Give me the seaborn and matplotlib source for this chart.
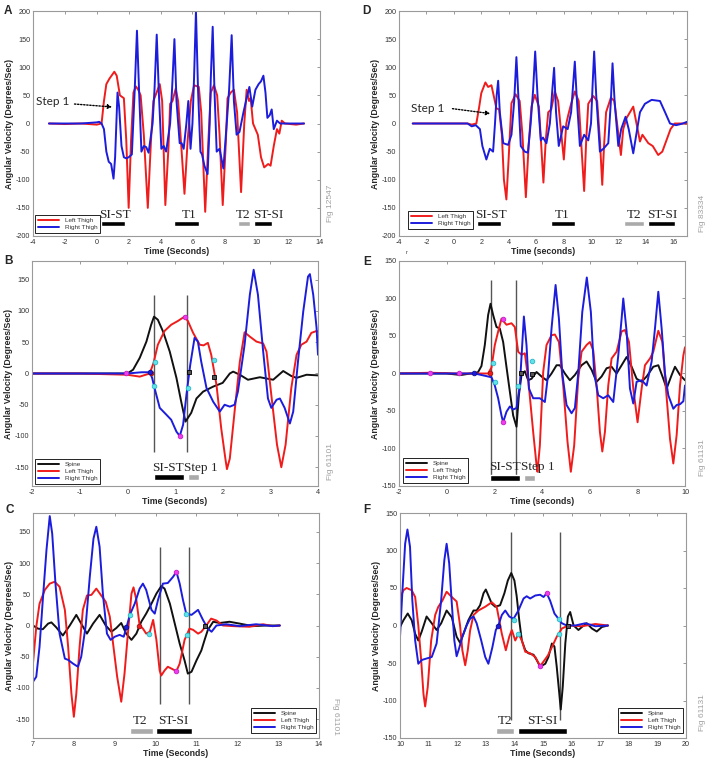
import matplotlib
matplotlib.use("Agg")
import matplotlib.pyplot as plt
import seaborn as sns

# ---------------- data ----------------
# A: whole trial (Fig 12547)
A_RED_T = [-3, -2, -1, 0, 0.3, 0.45, 0.6, 0.8, 1.1, 1.25, 1.45, 1.6, 1.7, 1.85, 2.0, 2.15, 2.3, 2.45, 2.6, 2.75,
           2.95, 3.2, 3.4, 3.55, 3.75, 3.95, 4.1, 4.3, 4.5, 4.6, 4.75, 4.95, 5.1, 5.3, 5.5, 5.7, 5.9, 6.1, 6.4, 6.55,
           6.8, 7.0, 7.15, 7.35, 7.55, 7.7, 7.9, 8.1, 8.2, 8.4, 8.6, 8.8, 9.05, 9.25, 9.4, 9.55, 9.65, 9.8, 10.1, 10.3,
           10.5, 10.75, 10.9, 11.1, 11.3, 11.45, 11.6, 11.8, 12.5, 13]
A_RED_V = [0, -1, 0, -2, 0, 40, 70, 80, 92, 85, 50, 47, 45, -30, -150, -30, 55, 66, 60, 50,
           -20, -150, -30, 40, 55, 70, 40, -145, -40, 35, 40, 62, 40, -40, -125, -30, 40, 68, 65, 20,
           -157, -30, 55, 68, 50, -20, -145, -30, 45, 55, 60, 20, -122, 0, 60, 40, 45, 0, -20, -60,
           -78, -72, -75, -40, -10, -18, 5, 0, -2, 0]
A_BLUE_T = [-3, -1, 0, 0.15, 0.3, 0.45, 0.6, 0.75, 0.9, 1.05, 1.15, 1.3, 1.4, 1.55, 1.7, 1.85, 2.0, 2.2, 2.38, 2.52,
            2.65, 2.8, 2.95, 3.1, 3.25, 3.5, 3.62, 3.76, 3.9, 4.05, 4.2, 4.35, 4.6, 4.72, 4.87, 5.0, 5.2, 5.32, 5.45, 5.62,
            5.74, 5.88, 6.0, 6.1, 6.22, 6.35, 6.5, 6.6, 6.75, 6.95, 7.08, 7.15, 7.27, 7.38, 7.52, 7.7, 7.94, 8.15, 8.3, 8.46,
            8.6, 8.77, 8.95, 9.2, 9.4, 9.57, 9.75, 9.95, 10.15, 10.3, 10.45, 10.58, 10.7, 10.85, 10.97, 11.1, 11.3, 11.5, 12, 13]
A_BLUE_V = [0, 0, 2, 3, 0, -10, -50, -68, -72, -98, -60, 55, 30, -40, -60, -62, -60, -55, 60, 165,
            60, -50, -40, -42, -52, 0, 60, 158, 50, -45, -40, -50, 0, 60, 150, 40, -35, -35, -45, 0,
            40, -45, 0, 80, 200, 60, -50, -55, -75, -90, 0, 80, 172, 60, -50, -45, -80, 0, 60, 157,
            40, -20, -15, 20, 45, 65, 30, 60, 70, 75, 85, 55, 10, 15, 25, -10, 5, 0, 0, 0]
A_BAR_START = [0.27, 4.86, 8.84, 9.86]
A_BAR_END = [1.75, 6.41, 9.61, 10.99]
A_BAR_LABEL = ["SI-ST", "T1", "T2", "ST-SI"]
A_BAR_LABEL_X = [1.14, 5.8, 9.15, 10.76]
A_BAR_GRAY = [False, False, True, False]

# D: whole trial (Fig 83334)
D_RED_T = [-3, -1, 1, 1.3, 1.64, 1.85, 2.0, 2.3, 2.5, 2.74, 2.9, 3.1, 3.3, 3.5, 3.65, 3.83, 4.0, 4.2, 4.5, 4.8,
           5.0, 5.25, 5.45, 5.66, 5.9, 6.2, 6.35, 6.53, 6.7, 6.88, 7.1, 7.36, 7.6, 7.8, 8.02, 8.2, 8.34, 8.55, 8.82, 9.1,
           9.3, 9.5, 9.65, 9.8, 10.16, 10.45, 10.65, 10.82, 10.95, 11.1, 11.45, 11.7, 11.95, 12.18, 12.35, 12.6, 13.08,
           13.57, 13.75, 14.18, 14.5, 14.9, 15.2, 15.5, 15.8, 16.1, 17]
D_RED_V = [0, 0, 0, -2, 0, 30, 54, 73, 65, 68, 50, 27, 25, -20, -100, -135, -60, 36, 52, 40,
           -20, -131, -40, 30, 51, 30, -30, -105, -30, 20, 25, 57, 40, -10, -64, 0, 15, 35, 57, 40,
           -40, -120, -30, 35, 49, 40, -30, -109, -40, 20, 46, 40, -10, -56, -10, 10, 30,
           -32, -20, -35, -40, -56, -50, -30, -10, 0, 0]
D_BLUE_T = [-3, -1, 1.0, 1.3, 1.6, 1.9, 2.08, 2.37, 2.62, 2.86, 3.0, 3.12, 3.23, 3.35, 3.6, 3.96, 4.2, 4.4, 4.56, 4.7,
            4.88, 5.17, 5.4, 5.6, 5.78, 5.93, 6.1, 6.34, 6.5, 6.75, 7.0, 7.18, 7.31, 7.45, 7.65, 7.97, 8.3, 8.55, 8.7, 8.82,
            8.95, 9.19, 9.5, 9.8, 10.0, 10.12, 10.23, 10.38, 10.65, 10.9, 11.26, 11.45, 11.57, 11.72, 11.99, 12.2, 12.52,
            12.75, 13.08, 13.3, 13.57, 13.93, 14.42, 15.03, 15.4, 15.76, 16.2, 16.7, 17]
D_BLUE_V = [0, 0, 0, -5, -3, -10, -40, -64, -45, -50, 0, 50, 76, 20, -35, -38, -20, 40, 118, 50,
            -40, -50, -52, 0, 60, 128, 50, -30, -25, -35, 0, 60, 99, 20, -40, -5, -10, 20, 70, 110,
            50, -40, -20, -30, 0, 70, 128, 50, -50, -45, -35, 40, 107, 40, -40, -10, 12,
            -10, -53, -20, 20, 35, 42, 40, 20, 0, -3, 0, 3]
D_BAR_START = [1.69, 7.05, 12.37, 14.13]
D_BAR_END = [3.47, 8.82, 13.88, 16.12]
D_BAR_LABEL = ["SI-ST", "T1", "T2", "ST-SI"]
D_BAR_LABEL_X = [2.67, 7.9, 13.15, 15.17]
D_BAR_GRAY = [False, False, True, False]

# B: sit-to-stand detail (Fig 61101)
B_SPINE_T = [-2, -1, 0, 0.12, 0.26, 0.4, 0.5, 0.56, 0.64, 0.75, 0.89, 1.03, 1.13, 1.22, 1.34, 1.45, 1.59, 1.8, 2.0,
             2.15, 2.22, 2.36, 2.53, 2.78, 2.92, 3.06, 3.27, 3.44, 3.55, 3.76, 4.0]
B_SPINE_V = [0, 0, 0, 6, 25, 51, 78, 91, 86, 67, 35, -7, -45, -77, -63, -40, -29, -21, -15,
             0, 3, -2, -10, -6, -8, -10, 4, -4, -7, -2, -3]
B_RED_T = [-2, -1, 0, 0.26, 0.47, 0.55, 0.64, 0.78, 0.92, 1.06, 1.2, 1.27, 1.38, 1.52, 1.6, 1.69, 1.76, 1.87, 1.97,
           2.06, 2.09, 2.15, 2.25, 2.36, 2.46, 2.57, 2.71, 2.85, 2.92, 3.02, 3.14, 3.23, 3.32, 3.44, 3.55, 3.65, 3.76,
           3.86, 3.97, 4.0]
B_RED_V = [0, 0, -2, -5, 0, 17, 46, 68, 78, 84, 91, 84, 65, 46, 45, 49, 30, -18, -88,
           -138, -153, -136, -61, 19, 66, 59, 51, 48, 35, -34, -114, -150, -114, -23, 30, 46, 51,
           65, 68, 67]
B_BLUE_T = [-2, -1, 0, 0.3, 0.47, 0.52, 0.57, 0.68, 0.82, 0.92, 1.03, 1.1, 1.17, 1.24, 1.32, 1.41, 1.48, 1.55, 1.66,
            1.8, 1.94, 2.04, 2.15, 2.25, 2.32, 2.46, 2.57, 2.65, 2.74, 2.85, 2.95, 3.02, 3.13, 3.2, 3.3, 3.41, 3.48,
            3.58, 3.69, 3.79, 3.83, 3.9, 3.97, 4.0]
B_BLUE_V = [0, 0, 0, 2, 2, -7, -23, -55, -66, -74, -93, -100, -82, -34, 14, 57, 51, 19, -23,
            -45, -61, -50, -53, -50, -29, 46, 126, 166, 126, 35, -40, -55, -42, -40, -55, -80, -61,
            19, 99, 155, 159, 126, 73, 30]
B_VLINES = [0.56, 1.25]
B_MARK_X = [0.58, 0.56, 1.27, 1.81, 1.20, 1.10, -0.02, 0.50, 0.47, 1.29, 1.82]
B_MARK_Y = [18, -20, -23, 21, 91, -100, 0, 0, 2, 2, -5]
B_MARK_K = ["c", "c", "c", "c", "m", "m", "m", "r", "b", "k", "k"]
B_BAR_START = [0.56, 1.27]
B_BAR_END = [1.18, 1.50]
B_BAR_LABEL = ["SI-ST", "Step 1"]
B_BAR_LABEL_X = [0.85, 1.54]
B_BAR_GRAY = [False, True]

# E: sit-to-stand detail (Fig 61131)
E_SPINE_T = [-2, 0, 0.6, 1.0, 1.18, 1.32, 1.46, 1.6, 1.74, 1.84, 1.95, 2.09, 2.23, 2.37, 2.5, 2.65, 2.79, 2.93, 3.03,
             3.14, 3.28, 3.42, 3.56, 3.77, 3.98, 4.19, 4.4, 4.61, 4.75, 4.96, 5.17, 5.38, 5.66, 5.87, 6.08, 6.29, 6.5,
             6.71, 6.92, 7.13, 7.34, 7.55, 7.76, 7.97, 8.18, 8.39, 8.67, 8.88, 9.09, 9.23, 9.44, 9.58, 9.79, 10.0]
E_SPINE_V = [0, 0, -2, 0, 0, 2, 10, 38, 78, 93, 78, 62, 60, 42, 11, -24, -56, -71, -29,
             -2, 3, -9, -7, 2, -4, -9, 0, 11, 11, 0, -9, -2, 11, 16, 5, -11, -4,
             7, 9, 0, 11, 22, 9, -7, -11, -4, 9, 11, -7, -20, -2, 9, -2, -9]
E_RED_T = [-2, -0.7, 0.5, 1.0, 1.74, 1.88, 2.02, 2.16, 2.3, 2.51, 2.72, 2.86, 3.0, 3.14, 3.28, 3.42, 3.63, 3.77, 3.81,
           3.91, 4.05, 4.19, 4.4, 4.54, 4.71, 4.89, 5.07, 5.21, 5.35, 5.52, 5.66, 5.87, 6.01, 6.15, 6.29, 6.43, 6.53,
           6.64, 6.78, 6.92, 7.13, 7.34, 7.48, 7.65, 7.83, 8.01, 8.18, 8.32, 8.53, 8.67, 8.88, 9.05, 9.19, 9.37, 9.51,
           9.65, 9.79, 9.93, 10.0]
E_RED_V = [0, 1, 0, 0, 0, 8, 38, 56, 73, 65, 67, 62, 29, 25, 27, -7, -78, -122, -131,
           -96, 2, 38, 51, 52, 42, -16, -91, -131, -96, -7, 29, 38, 42, 31, -16, -78, -104,
           -78, -16, 20, 29, 56, 58, 42, -20, -65, -20, 11, 20, 29, 57, 42, -16, -87, -120,
           -82, -16, 24, 35]
E_BLUE_T = [-2, 0, 1.18, 1.6, 1.88, 2.02, 2.16, 2.3, 2.37, 2.51, 2.65, 2.79, 2.93, 3.07, 3.17, 3.24, 3.35, 3.45, 3.63,
            3.91, 4.12, 4.26, 4.4, 4.57, 4.71, 4.85, 5.03, 5.24, 5.38, 5.52, 5.69, 5.88, 6.05, 6.19, 6.36, 6.57, 6.78,
            6.99, 7.2, 7.34, 7.41, 7.55, 7.69, 7.83, 7.97, 8.18, 8.39, 8.6, 8.74, 8.88, 9.02, 9.16, 9.3, 9.51, 9.65,
            9.79, 9.93, 10.0]
E_BLUE_V = [0, 0, 0, -3, -5, -16, -33, -56, -65, -51, -44, -48, -46, -16, 38, 76, 38, -20, -33,
            -33, -38, 0, 60, 118, 73, 0, -42, -53, -46, 0, 82, 128, 82, 0, -29, -33, -29,
            -38, 24, 73, 100, 56, -20, -40, -11, -9, -16, 16, 60, 109, 60, 0, -29, -47, -42,
            -41, -37, -16]
E_VLINES = [1.84, 2.93]
E_MARK_X = [1.93, 2.02, 3.00, 3.60, 2.35, 2.37, -0.70, 0.50, 1.81, 1.15, 3.12, 3.60]
E_MARK_Y = [14, -12, -17, 17, 73, -65, 0, 0, 0, 0, 1, -1]
E_MARK_K = ["c", "c", "c", "c", "m", "m", "m", "m", "r", "b", "k", "k"]
E_BAR_START = [1.81, 3.24]
E_BAR_END = [3.07, 3.70]
E_BAR_LABEL = ["SI-ST", "Step 1"]
E_BAR_LABEL_X = [2.44, 3.84]
E_BAR_GRAY = [False, True]

# C: stand-to-sit detail (Fig 61101)
C_SPINE_T = [7.0, 7.12, 7.24, 7.37, 7.45, 7.57, 7.73, 7.9, 8.06, 8.18, 8.32, 8.47, 8.63, 8.78, 8.92, 9.04, 9.16, 9.28,
             9.41, 9.53, 9.65, 9.77, 9.9, 10.02, 10.14, 10.22, 10.35, 10.47, 10.59, 10.71, 10.79, 10.88, 11.0, 11.12,
             11.2, 11.28, 11.41, 11.57, 11.81, 12.06, 12.38, 12.71, 13.04]
C_SPINE_V = [0, -5, -6, 3, 5, -3, -16, 0, 17, 3, -13, 3, 17, 0, -10, -4, 4, -13,
             -23, -13, 6, 19, 35, 51, 63, 59, 35, 3, -29, -56, -77, -74, -56, -40,
             -23, -7, 6, 4, 6, 3, -1, 0, 0]
C_RED_T = [7.0, 7.08, 7.16, 7.29, 7.41, 7.53, 7.65, 7.78, 7.86, 7.94, 8.0, 8.06, 8.14, 8.22, 8.32, 8.43, 8.55, 8.67,
           8.78, 8.88, 8.96, 9.06, 9.16, 9.24, 9.33, 9.41, 9.46, 9.53, 9.61, 9.69, 9.77, 9.86, 9.94, 10.02, 10.1,
           10.14, 10.22, 10.3, 10.39, 10.51, 10.59, 10.71, 10.83, 10.92, 11.04, 11.12, 11.24, 11.36, 11.49, 11.65,
           11.9, 12.3, 12.63, 12.87, 13.04]
C_RED_V = [-60, -2, 35, 57, 67, 70, 62, 25, -34, -109, -146, -109, -34, 25, 48, 49, 59, 48,
           38, 14, -29, -82, -122, -77, -7, 51, 61, 41, 0, -5, -13, -10, 9, -23, -72,
           -80, -72, -66, -69, -73, -61, -23, -5, -7, -13, -10, 0, 11, 8, 0,
           -1, -2, 2, -1, 0]
C_BLUE_T = [7.0, 7.08, 7.16, 7.24, 7.33, 7.41, 7.47, 7.55, 7.65, 7.78, 7.86, 7.98, 8.1, 8.18, 8.29, 8.39, 8.48, 8.55,
            8.63, 8.71, 8.81, 8.9, 9.0, 9.12, 9.22, 9.28, 9.37, 9.49, 9.61, 9.69, 9.77, 9.9, 9.98, 10.06, 10.18,
            10.3, 10.43, 10.51, 10.59, 10.67, 10.75, 10.88, 11.04, 11.16, 11.28, 11.37, 11.49, 11.73, 12.06, 12.46,
            12.87, 13.04]
C_BLUE_V = [-90, -82, -34, 41, 121, 175, 147, 67, -13, -53, -55, -61, -66, -50, 0, 78, 139, 158,
            126, 51, -13, -23, -18, -15, -18, -5, 17, 35, 59, 67, 57, 25, 19, 41, 67,
            68, 78, 86, 67, 41, 19, 17, 25, 9, -5, -10, 0, 2, -1, 2,
            -1, 0]
C_VLINES = [10.12, 10.81]
C_MARK_X = [9.37, 9.85, 10.75, 10.77, 10.51, 10.51, 9.28, 9.60, 11.22]
C_MARK_Y = [17, -13, 18, -15, 86, -73, -3, 0, 0]
C_MARK_K = ["c", "c", "c", "c", "m", "m", "b", "r", "k"]
C_BAR_START = [9.37, 10.02]
C_BAR_END = [9.94, 10.89]
C_BAR_LABEL = ["T2", "ST-SI"]
C_BAR_LABEL_X = [9.61, 10.43]
C_BAR_GRAY = [True, False]

# F: stand-to-sit detail (Fig 61131)
F_SPINE_T = [10.0, 10.12, 10.27, 10.41, 10.53, 10.64, 10.76, 10.93, 11.11, 11.28, 11.44, 11.63, 11.81, 11.98, 12.1,
             12.22, 12.39, 12.57, 12.68, 12.8, 12.92, 13.0, 13.09, 13.21, 13.33, 13.5, 13.65, 13.77, 13.89, 14.0,
             14.08, 14.17, 14.26, 14.38, 14.49, 14.67, 14.78, 14.9, 15.08, 15.19, 15.31, 15.4, 15.48, 15.57, 15.62,
             15.69, 15.78, 15.87, 15.95, 16.07, 16.24, 16.36, 16.53, 16.71, 16.88, 17.06, 17.27]
F_SPINE_V = [-2, 7, 16, 7, -11, -20, -8, 12, 3, -6, 3, 20, 11, -15, -23,
             -11, 7, 20, 20, 27, 43, 48, 40, 29, 25, 27, 43, 60, 70, 60,
             39, 7, -20, -33, -37, -39, -46, -55, -51, -42, -24, -28, -55, -91, -112,
             -82, -24, 12, 18, 0, -6, -2, 3, -4, -8, -2, 0]
F_RED_T = [10.0, 10.12, 10.23, 10.41, 10.53, 10.64, 10.74, 10.82, 10.88, 10.97, 11.09, 11.23, 11.34, 11.48, 11.63,
           11.81, 11.98, 12.1, 12.18, 12.28, 12.37, 12.45, 12.57, 12.74, 12.98, 13.21, 13.38, 13.56, 13.7, 13.82,
           13.91, 14.03, 14.14, 14.26, 14.38, 14.55, 14.73, 14.9, 15.02, 15.17, 15.31, 15.48, 15.66, 15.89, 16.36,
           16.83, 17.27]
F_RED_V = [36, 47, 50, 47, 38, 0, -46, -91, -108, -82, -20, 14, 25, 33, 45,
           38, 32, 0, -33, -53, -33, -7, 14, 20, 25, 31, 25, -11, -33, -15,
           -6, -20, -11, -20, -35, -37, -42, -54, -48, -40, -29, -15, -4, 0, -1,
           2, 0]
F_BLUE_T = [10.0, 10.08, 10.18, 10.26, 10.35, 10.43, 10.53, 10.64, 10.76, 10.93, 11.11, 11.28, 11.44, 11.55, 11.63,
            11.72, 11.81, 11.9, 11.98, 12.07, 12.18, 12.33, 12.45, 12.57, 12.68, 12.84, 12.98, 13.09, 13.23, 13.35,
            13.44, 13.56, 13.68, 13.82, 13.97, 14.14, 14.32, 14.43, 14.55, 14.73, 14.9, 15.02, 15.13, 15.25, 15.4,
            15.54, 15.66, 15.83, 16.13, 16.48, 16.83, 17.27]
F_BLUE_V = [-15, 43, 109, 128, 105, 34, -20, -51, -46, -44, -42, -24, 34, 87, 109,
            83, 30, -20, -41, -30, -15, 0, 9, 12, 3, -20, -42, -51, -29, -6,
            0, 14, 20, 12, 9, 20, 36, 39, 36, 40, 41, 38, 43, 33, 16,
            9, 3, 0, 0, 3, -1, 0]
F_VLINES = [13.87, 15.6]
F_MARK_X = [13.98, 14.14, 15.55, 15.55, 15.13, 14.90, 13.44, 15.87]
F_MARK_Y = [8, -11, 9, -11, 43, -54, 0, 0]
F_MARK_K = ["c", "c", "c", "c", "m", "m", "b", "k"]
F_BAR_START = [13.35, 14.12]
F_BAR_END = [13.98, 15.83]
F_BAR_LABEL = ["T2", "ST-SI"]
F_BAR_LABEL_X = [13.68, 14.98]
F_BAR_GRAY = [True, False]

RED = "#f01c1c"
BLUE = "#1c1cdc"
BLACK = "#111111"
MARK_STYLE = {
    "c": dict(marker="o", color="#5fe3ea", edgecolor="#2bb7c6"),
    "m": dict(marker="o", color="#f03cf0", edgecolor="#c020c0"),
    "r": dict(marker="o", color=RED, edgecolor="#a01010"),
    "b": dict(marker="o", color=BLUE, edgecolor="#101090"),
    "k": dict(marker="s", color="#555555", edgecolor="black"),
}

sns.set_style("white")
plt.rcParams["font.family"] = ["Liberation Sans", "DejaVu Sans"]
plt.rcParams["axes.unicode_minus"] = False

W, H = 713, 761
fig = plt.figure(figsize=(W / 100, H / 100), dpi=100)


def box(left, right, top, bottom):
    return [left / W, 1 - bottom / H, (right - left) / W, (bottom - top) / H]


def setup(ax, xlim, ylim, xticks, yticks, xlabel):
    ax.set_xlim(*xlim)
    ax.set_ylim(*ylim)
    ax.set_xticks(xticks)
    ax.set_yticks(yticks)
    ax.tick_params(direction="in", length=2.5, width=0.6, top=True, right=True,
                   labelsize=5.2, labelcolor="#333333", color="#888888", pad=2)
    for s in ax.spines.values():
        s.set_color("#9a9a9a")
        s.set_linewidth(0.8)
    ax.set_xlabel(xlabel, fontsize=6.3, fontweight="bold", labelpad=1)
    ax.set_ylabel("Angular Velocity (Degrees/Sec)", fontsize=6.3, fontweight="bold", labelpad=1.5)


def lines(ax, series):
    for t, v, color, label in series:
        sns.lineplot(x=t, y=v, ax=ax, color=color, lw=1.4, label=label,
                     sort=False, estimator=None)


def legend(ax, loc, anchor):
    leg = ax.legend(loc=loc, bbox_to_anchor=anchor, borderaxespad=0, fontsize=4.6,
                    frameon=True, fancybox=False, edgecolor="black", framealpha=1,
                    handlelength=3.3, handletextpad=0.9, labelspacing=0.25, borderpad=0.45)
    leg.get_frame().set_linewidth(0.6)
    for txt in leg.get_texts():
        txt.set_color("#333333")


def bars(ax, starts, ends, labels, label_x, gray, y0, y1, base):
    for s, e, lab, lx, g in zip(starts, ends, labels, label_x, gray):
        ax.barh(y=(y0 + y1) / 2, width=e - s, left=s, height=y1 - y0,
                color="#aaaaaa" if g else "black", zorder=4)
        ax.text(lx, base, lab, ha="center", va="baseline", fontsize=9.5,
                family=["Liberation Serif", "DejaVu Serif"], zorder=4)


def markers(ax, xs, ys, kinds):
    for x, y, k in zip(xs, ys, kinds):
        st = MARK_STYLE[k]
        ax.scatter([x], [y], s=11, marker=st["marker"], color=st["color"],
                   edgecolors=st["edgecolor"], linewidths=0.6, zorder=6)


def vlines(ax, xs, y0, y1):
    ax.vlines(xs, y0, y1, color="#555555", lw=1.0, zorder=1)


def step_note(ax, text_xy, start, end):
    ax.text(text_xy[0], text_xy[1], "Step 1", ha="center", va="center",
            fontsize=8.5, family=["Lato", "DejaVu Sans"])
    ax.annotate("", xy=end, xytext=start,
                arrowprops=dict(arrowstyle="-|>", ls=(0, (1, 1.2)), lw=1.0,
                                color="black", mutation_scale=6))


# ---------------- A ----------------
ax = fig.add_axes(box(33, 320, 11, 236))
lines(ax, [(A_RED_T, A_RED_V, RED, "Left Thigh"), (A_BLUE_T, A_BLUE_V, BLUE, "Right Thigh")])
setup(ax, (-4, 14), (-200, 200), range(-4, 15, 2), range(-200, 201, 50), "Time (Seconds)")
legend(ax, "lower left", (0.007, 0.013))
bars(ax, A_BAR_START, A_BAR_END, A_BAR_LABEL, A_BAR_LABEL_X, A_BAR_GRAY, -183, -173, -168)
step_note(ax, (-2.79, 39), (-1.57, 35), (1.14, 29))

# ---------------- D ----------------
ax = fig.add_axes(box(399, 687, 11, 236))
lines(ax, [(D_RED_T, D_RED_V, RED, "Left Thigh"), (D_BLUE_T, D_BLUE_V, BLUE, "Right Thigh")])
setup(ax, (-4, 17), (-200, 200), range(-4, 17, 2), range(-200, 201, 50), "Time (seconds)")
legend(ax, "lower left", (0.031, 0.031))
bars(ax, D_BAR_START, D_BAR_END, D_BAR_LABEL, D_BAR_LABEL_X, D_BAR_GRAY, -183, -173, -168)
step_note(ax, (-1.88, 27), (-0.3, 27), (2.86, 17))

# ---------------- B ----------------
ax = fig.add_axes(box(32, 318, 261, 486))
vlines(ax, B_VLINES, -125, 125)
lines(ax, [(B_SPINE_T, B_SPINE_V, BLACK, "Spine"), (B_RED_T, B_RED_V, RED, "Left Thigh"),
           (B_BLUE_T, B_BLUE_V, BLUE, "Right Thigh")])
markers(ax, B_MARK_X, B_MARK_Y, B_MARK_K)
setup(ax, (-2, 4), (-180, 180), range(-2, 5), range(-150, 151, 50), "Time (Seconds)")
legend(ax, "lower left", (0.01, 0.009))
bars(ax, B_BAR_START, B_BAR_END, B_BAR_LABEL, B_BAR_LABEL_X, B_BAR_GRAY, -171, -161, -156)

# ---------------- E ----------------
ax = fig.add_axes(box(399, 685, 261, 486))
vlines(ax, E_VLINES, -140, 125)
lines(ax, [(E_SPINE_T, E_SPINE_V, BLACK, "Spine"), (E_RED_T, E_RED_V, RED, "Left Thigh"),
           (E_BLUE_T, E_BLUE_V, BLUE, "Right Thigh")])
markers(ax, E_MARK_X, E_MARK_Y, E_MARK_K)
setup(ax, (-2, 10), (-150, 150), range(-2, 11, 2), range(-150, 151, 50), "Time (seconds)")
legend(ax, "lower left", (0.014, 0.013))
bars(ax, E_BAR_START, E_BAR_END, E_BAR_LABEL, E_BAR_LABEL_X, E_BAR_GRAY, -143, -135, -129)

# ---------------- C ----------------
ax = fig.add_axes(box(33, 319, 513, 738))
vlines(ax, C_VLINES, -125, 126)
lines(ax, [(C_SPINE_T, C_SPINE_V, BLACK, "Spine"), (C_RED_T, C_RED_V, RED, "Left Thigh"),
           (C_BLUE_T, C_BLUE_V, BLUE, "Right Thigh")])
markers(ax, C_MARK_X, C_MARK_Y, C_MARK_K)
setup(ax, (7, 14), (-180, 180), range(7, 15), range(-150, 151, 50), "Time (Seconds)")
legend(ax, "lower right", (0.99, 0.022))
bars(ax, C_BAR_START, C_BAR_END, C_BAR_LABEL, C_BAR_LABEL_X, C_BAR_GRAY, -173, -164, -158)

# ---------------- F ----------------
ax = fig.add_axes(box(400, 686, 513, 738))
vlines(ax, F_VLINES, -126, 125)
lines(ax, [(F_SPINE_T, F_SPINE_V, BLACK, "Spine"), (F_RED_T, F_RED_V, RED, "Left Thigh"),
           (F_BLUE_T, F_BLUE_V, BLUE, "Right Thigh")])
markers(ax, F_MARK_X, F_MARK_Y, F_MARK_K)
setup(ax, (10, 20), (-150, 150), range(10, 21), range(-150, 151, 50), "Time (Seconds)")
legend(ax, "lower right", (0.99, 0.022))
bars(ax, F_BAR_START, F_BAR_END, F_BAR_LABEL, F_BAR_LABEL_X, F_BAR_GRAY, -144, -136, -131)

# panel letters and figure ids
for letter, x, y in [("A", 4, 14), ("D", 362, 14), ("B", 4, 264), ("E", 363, 265), ("C", 5, 513), ("F", 363, 513)]:
    fig.text(x / W, 1 - y / H, letter, fontsize=8.5, fontweight="bold", va="baseline")
for label, x, y, rot in [("Fig 12547", 330, 203, 90), ("Fig 83334", 702, 213, 90), ("Fig 61101", 330, 462, 90),
                         ("Fig 61131", 702, 458, 90), ("Fig 61101", 335, 717, -90), ("Fig 61131", 703, 713, 90)]:
    fig.text(x / W, 1 - y / H, label, rotation=rot, fontsize=6, color="#a0a0a0", ha="center", va="center")
fig.text(407 / W, 1 - 253 / H, "r", fontsize=4, color="#333333", ha="center", va="center")

fig.savefig("out.png", dpi=100)
